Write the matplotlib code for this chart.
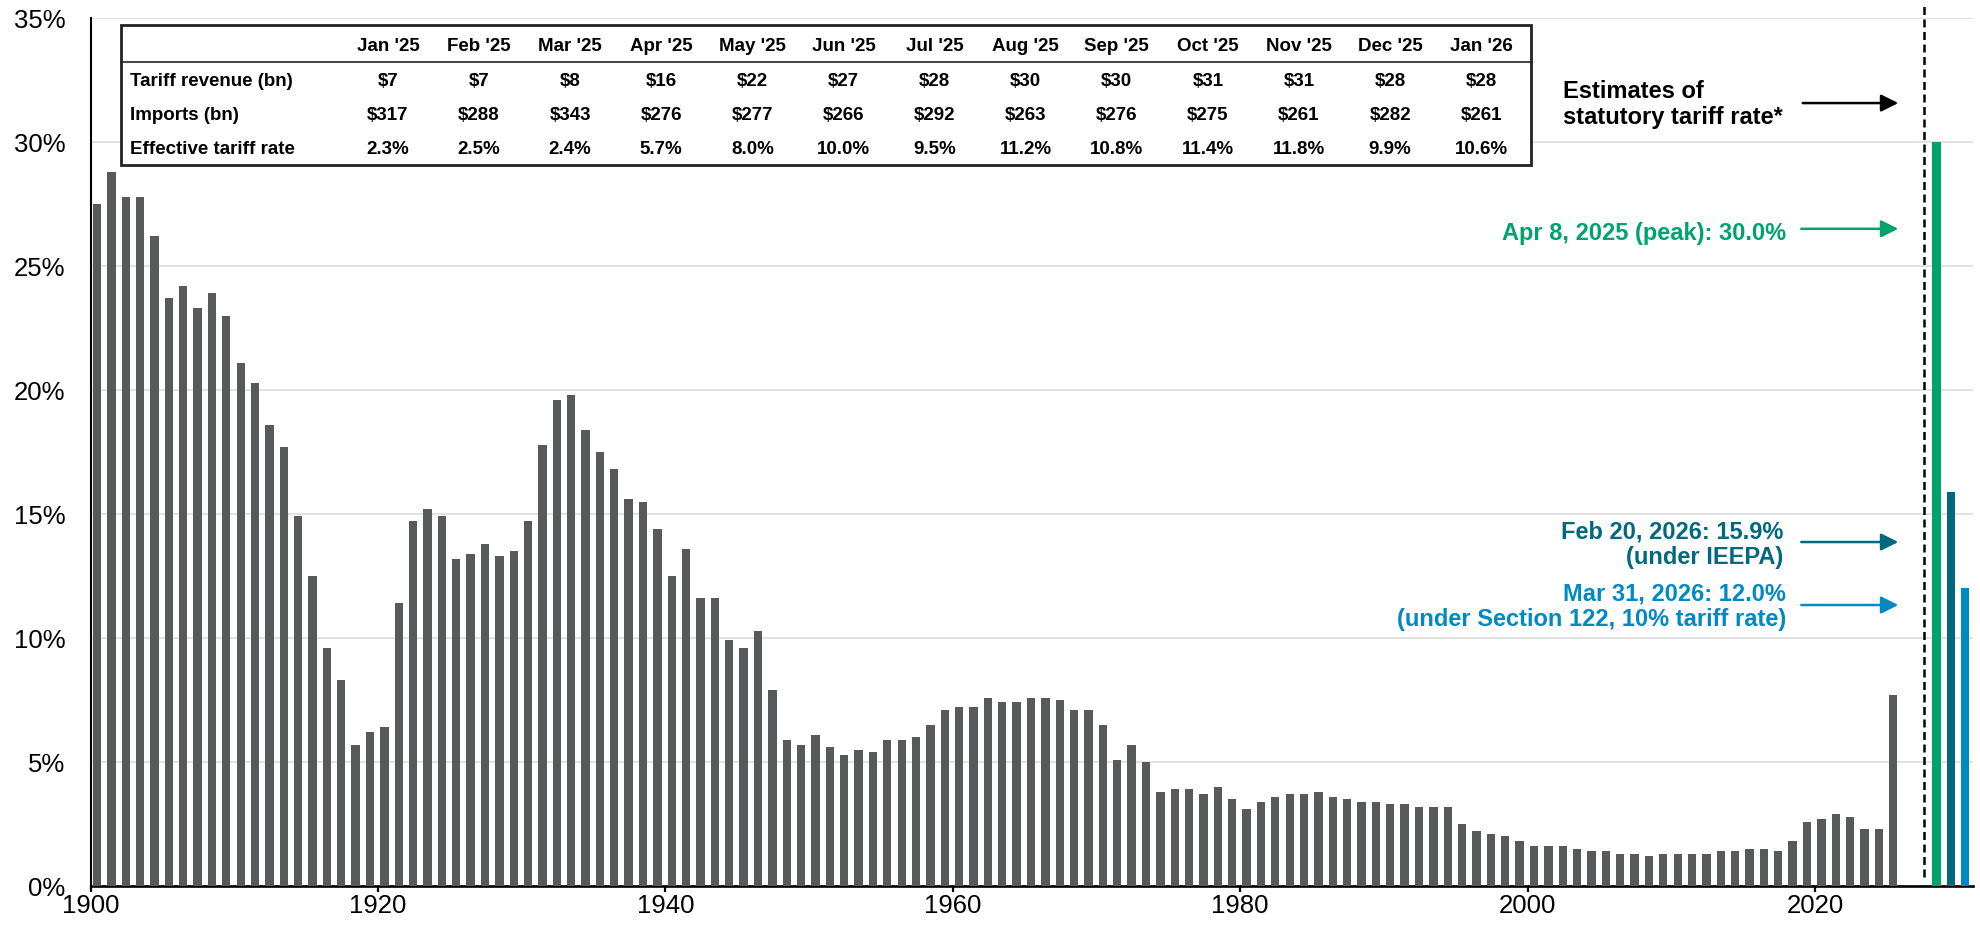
import matplotlib
matplotlib.use('Agg')
import matplotlib.pyplot as plt
from matplotlib.patches import Rectangle
from matplotlib.lines import Line2D

plt.rcParams['font.family'] = ['Liberation Sans', 'DejaVu Sans']

# annual effective tariff rate, %
years = list(range(1900, 2026))
rates = [27.5, 28.8, 27.8, 27.8, 26.2, 23.7, 24.2, 23.3, 23.9, 23.0,
         21.1, 20.3, 18.6, 17.7, 14.9, 12.5, 9.6, 8.3, 5.7, 6.2,
         6.4, 11.4, 14.7, 15.2, 14.9, 13.2, 13.4, 13.8, 13.3, 13.5,
         14.7, 17.8, 19.6, 19.8, 18.4, 17.5, 16.8, 15.6, 15.5, 14.4,
         12.5, 13.6, 11.6, 11.6, 9.9, 9.6, 10.3, 7.9, 5.9, 5.7,
         6.1, 5.6, 5.3, 5.5, 5.4, 5.9, 5.9, 6.0, 6.5, 7.1,
         7.2, 7.2, 7.6, 7.4, 7.4, 7.6, 7.6, 7.5, 7.1, 7.1,
         6.5, 5.1, 5.7, 5.0, 3.8, 3.9, 3.9, 3.7, 4.0, 3.5,
         3.1, 3.4, 3.6, 3.7, 3.7, 3.8, 3.6, 3.5, 3.4, 3.4,
         3.3, 3.3, 3.2, 3.2, 3.2, 2.5, 2.2, 2.1, 2.0, 1.8,
         1.6, 1.6, 1.6, 1.5, 1.4, 1.4, 1.3, 1.3, 1.2, 1.3,
         1.3, 1.3, 1.3, 1.4, 1.4, 1.5, 1.5, 1.4, 1.8, 2.6,
         2.7, 2.9, 2.8, 2.3, 2.3, 7.7]

# statutory rate estimates
est_slots = [2028, 2029, 2030]
est_values = [30.0, 15.9, 12.0]
est_colors = ['#00A36C', '#00687F', '#0089C2']
est_labels = ['Apr 8, 2025 (peak): 30.0%',
              'Feb 20, 2026: 15.9%\n(under IEEPA)',
              'Mar 31, 2026: 12.0%\n(under Section 122, 10% tariff rate)']

# monthly table
months = ["Jan '25", "Feb '25", "Mar '25", "Apr '25", "May '25", "Jun '25", "Jul '25",
          "Aug '25", "Sep '25", "Oct '25", "Nov '25", "Dec '25", "Jan '26"]
revenue = [7, 7, 8, 16, 22, 27, 28, 30, 30, 31, 31, 28, 28]
imports = [317, 288, 343, 276, 277, 266, 292, 263, 276, 275, 261, 282, 261]
eff_rate = [2.3, 2.5, 2.4, 5.7, 8.0, 10.0, 9.5, 11.2, 10.8, 11.4, 11.8, 9.9, 10.6]

W, H = 1981, 931
fig = plt.figure(figsize=(W / 100, H / 100), dpi=100)
ax = fig.add_axes([90.5 / W, 1 - 886 / H, (1973 - 90.5) / W, (886 - 18) / H])

off = 0.45
ax.bar([y + off for y in years], rates, width=0.58, color='#58595B', zorder=3)
ax.bar([s + off for s in est_slots], est_values, width=0.58, color=est_colors, zorder=3)

ax.set_xlim(1900, 2031)
ax.set_ylim(0, 35)
ax.set_yticks(range(0, 36, 5))
ax.set_yticklabels([f'{v}%' for v in range(0, 36, 5)])
ax.set_xticks(range(1900, 2021, 20))
ax.tick_params(axis='y', length=0, pad=18, labelsize=18.5)
ax.tick_params(axis='x', length=4, width=1.6, pad=2, labelsize=18.5, direction='out')
ax.yaxis.grid(True, color='#D9D9D9', lw=1.1)
ax.set_axisbelow(True)
for s in ['top', 'right']:
    ax.spines[s].set_visible(False)
ax.spines['left'].set_linewidth(1.5)
ax.spines['bottom'].set_linewidth(1.9)

# dashed separator
dl = Line2D([2027.6, 2027.6], [0.36, 35.6], color='black', lw=1.8, clip_on=False, zorder=4)
dl.set_dashes((3.2, 1.8))
ax.add_line(dl)

# annotations
ax.text(2002.5, 31.5, 'Estimates of\nstatutory tariff rate*', fontsize=17, fontweight='bold',
        ha='left', va='center', linespacing=1.15)
ax.annotate('', xy=(2025.8, 31.57), xytext=(2019.15, 31.57),
            arrowprops=dict(arrowstyle='-|>', color='black', lw=1.8, mutation_scale=26,
                            shrinkA=0, shrinkB=0))

txt_pos = [(2018.0, 26.33), (2017.8, 13.77), (2018.0, 11.27)]
arr_y = [26.5, 13.87, 11.33]
for lab, c, (tx, ty), ay in zip(est_labels, est_colors, txt_pos, arr_y):
    ax.text(tx, ty, lab, color=c, fontsize=17, fontweight='bold', ha='right', va='center',
            multialignment='right', linespacing=1.15)
    ax.annotate('', xy=(2025.8, ay), xytext=(2019.05, ay),
                arrowprops=dict(arrowstyle='-|>', color=c, lw=1.8, mutation_scale=26,
                                shrinkA=0, shrinkB=0))

# table
def fx(x):
    return x / W

def fy(y):
    return 1 - y / H

tl, tr, tt, tb = 121.5, 1531, 25.5, 165
ax.add_patch(Rectangle((fx(tl), fy(tb)), (tr - tl) / W, (tb - tt) / H, transform=fig.transFigure,
                       facecolor='white', edgecolor='#222222', lw=2.0, clip_on=False, zorder=5))
ax.add_line(Line2D([fx(tl), fx(tr)], [fy(62.3), fy(62.3)], transform=fig.transFigure,
                   color='#222222', lw=1.2, clip_on=False, zorder=6))

row_y = [46.7, 81.7, 115.5, 150]
row_names = ['Tariff revenue (bn)', 'Imports (bn)', 'Effective tariff rate']
rows = [[f'${v}' for v in revenue], [f'${v}' for v in imports], [f'{v:.1f}%' for v in eff_rate]]
tkw = dict(transform=fig.transFigure, fontsize=13.5, fontweight='bold', va='center', zorder=7)
for name, yy in zip(row_names, row_y[1:]):
    ax.text(fx(129.5), fy(yy), name, ha='left', **tkw)
for i, m in enumerate(months):
    cx = fx(388 + i * 91.1)
    ax.text(cx, fy(row_y[0]), m, ha='center', **tkw)
    for r, yy in zip(rows, row_y[1:]):
        ax.text(cx, fy(yy), r[i], ha='center', **tkw)

fig.savefig('out.png', dpi=100)
